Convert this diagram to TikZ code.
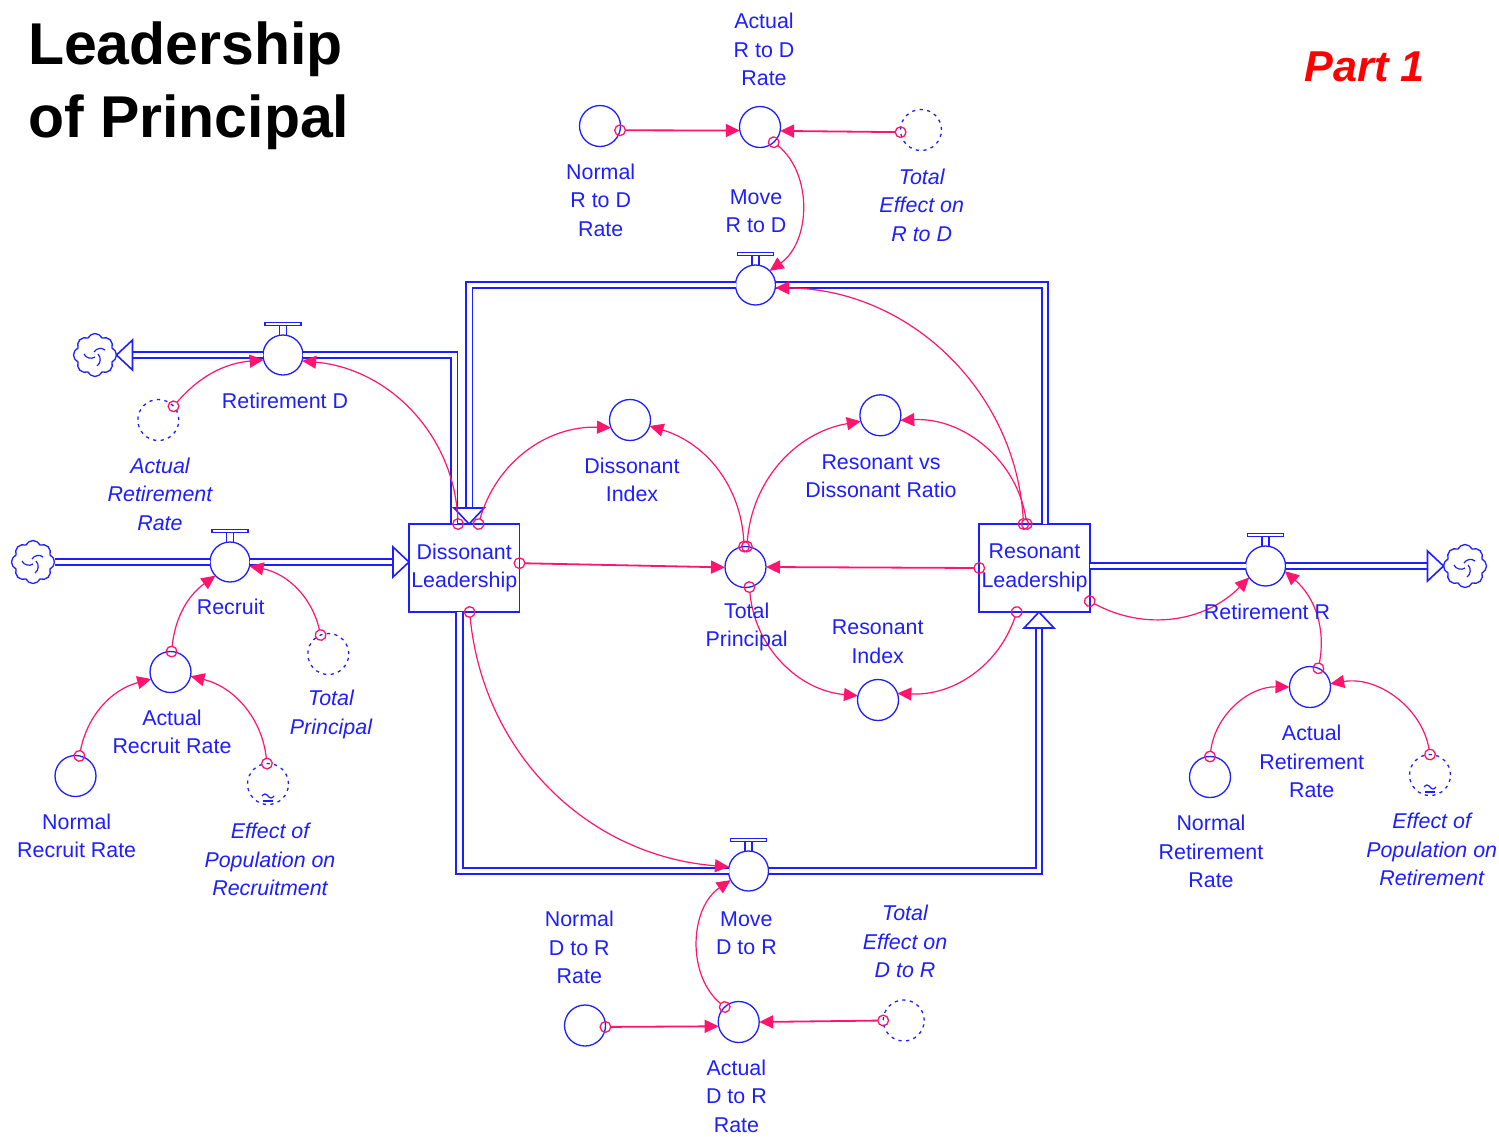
\documentclass[tikz,border=0pt]{standalone}
\usepackage{fontspec}
\setmainfont{Liberation Sans}
\usetikzlibrary{arrows.meta,shapes.symbols}
\definecolor{vblue}{RGB}{30,30,255}
\definecolor{cpink}{RGB}{255,20,110}
\newcommand\labfont{\fontsize{10.7}{14.25}\selectfont}

\begin{document}
\begin{tikzpicture}[x=0.5pt,y=0.5pt,
  every node/.style={inner sep=0pt, outer sep=0pt},
  lab/.style={text=vblue, font=\labfont, align=center},
  glab/.style={text=vblue, font=\labfont\itshape, align=center},
  aux/.style={circle, draw=vblue, line width=0.65pt, minimum size=20.5pt},
  ghost/.style={aux, dash pattern=on 1.6pt off 2.2pt},
  valve/.style={aux, fill=white, minimum size=20pt},
  stockbox/.style={draw=vblue, line width=0.8pt, minimum width=55.25pt, minimum height=44pt,
                   text=vblue, font=\labfont, align=center},
  cloudsh/.style={cloud, cloud puffs=8, cloud puff arc=130, aspect=1, draw=vblue,
                  line width=0.65pt, minimum width=21.5pt, minimum height=21.5pt},
  pipe/.style={draw=vblue, line width=0.85pt, double=white, double distance=2.45pt},
  ptipstyle/.style={draw=vblue, line width=0.8pt, line join=miter},
  vline/.style={draw=vblue, line width=0.6pt},
  conn/.style={draw=cpink, line width=0.6pt,
               {Circle[open,length=6pt,width=6pt,line width=0.65pt]}-{Triangle[length=7pt,width=6.5pt]},
               shorten <=-3pt},
  sconn/.style={conn, line width=0.9pt},
  ptip/.pic={\path[ptipstyle] (0,0) -- (-16,15) -- (-16,-15) -- cycle;},
  swirl/.pic={\draw[vline] (-11,1) to[bend right=50] (0,-2);
              \draw[vline] (2,-11) to[bend right=50] (3,1);
              \draw[vline] (10,5) to[bend right=50] (-1,3);}
]
\useasboundingbox (0,0) rectangle (1499,-1136);

% ---------- title ----------
\node[anchor=west, align=left, font=\fontsize{29.5}{36.6}\selectfont\bfseries] (title)
  at (28,-86) {Leadership\\of Principal};
\node[text=red, font=\fontsize{21.6}{26}\selectfont\bfseries\itshape] (part)
  at (1364.5,-67.2) {Part 1};

% ---------- stocks ----------
\node[stockbox] (dl) at (464.25,-568) {Dissonant\\Leadership};
\node[stockbox] (rl) at (1034.5,-568) {Resonant\\Leadership};

% ---------- clouds ----------
\node[cloudsh] (cRD) at (95,-355) {};
\node[cloudsh] (cRec) at (33,-562) {};
\node[cloudsh] (cRR) at (1465,-566) {};
\foreach \c in {cRD,cRec,cRR} \pic at (\c.center) {swirl};

% ---------- valves ----------
\node[valve] (rd) at (283,-355) {};
\node[valve] (rec) at (230,-562) {};
\node[valve] (mrd) at (755.5,-285) {};
\node[valve] (mdr) at (748.5,-871) {};
\node[valve] (rr) at (1265.5,-566) {};

% ---------- pipes ----------
\draw[pipe] ([xshift=-5pt]dl.north) |- (rd.east);
\draw[pipe] (rd.west) -- ([xshift=8pt]cRD.east);
\pic[rotate=180] at (cRD.east) {ptip};

\coordinate (dlIn) at (dl.west |- rec.center);
\draw[pipe] (cRec.east) -- (rec.west);
\draw[pipe] (rec.east) -- ([xshift=-8pt]dlIn);
\pic at (dlIn) {ptip};

\draw[pipe] ([xshift=5.25pt]rl.north) |- (mrd.east);
\draw[pipe] (mrd.west) -| ([shift={(2.4pt,7.5pt)}]dl.north);
\pic[rotate=-90] at ([xshift=2.4pt]dl.north) {ptip};

\draw[pipe] ([xshift=-2.4pt]dl.south) |- (mdr.west);
\draw[pipe] (mdr.east) -| ([shift={(2.25pt,-7.5pt)}]rl.south);
\pic[rotate=90] at ([xshift=2.25pt]rl.south) {ptip};

\coordinate (rlOut) at (rl.east |- rr.center);
\draw[pipe] (rlOut) -- (rr.west);
\draw[pipe] (rr.east) -- ([xshift=-8pt]cRR.west);
\pic at (cRR.west) {ptip};

% valve handles
\foreach \v in {rd,rec,mrd,mdr,rr}{
  \draw[vline] ([shift={(-18,29.5)}]\v.center) rectangle ([shift={(18,32.5)}]\v.center);
  \draw[vline] ([shift={(-3.5,20.5)}]\v.center) -- ([shift={(-3.5,29.5)}]\v.center);
  \draw[vline] ([shift={(3.5,20.5)}]\v.center) -- ([shift={(3.5,29.5)}]\v.center);
}

% ---------- auxiliaries ----------
\node[aux] (nrd) at (600,-126) {};
\node[aux] (ard) at (760,-127) {};
\node[ghost] (terd) at (921,-130) {};
\node[ghost] (arrL) at (158.3,-420) {};
\node[aux] (di) at (630,-420) {};
\node[aux] (rdr) at (880.4,-415.3) {};
\node[aux] (tp) at (745.5,-567) {};
\node[aux] (ri) at (878,-700) {};
\node[aux] (arr) at (170.5,-672) {};
\node[aux] (nrr) at (75.5,-776) {};
\node[ghost] (tpg) at (328.3,-654) {};
\node[ghost] (epr) at (268,-784) {};
\node[aux] (arrR) at (1310,-687) {};
\node[aux] (nretr) at (1210,-777) {};
\node[ghost] (epret) at (1430,-775) {};
\node[aux] (adr) at (738.7,-1022) {};
\node[aux] (ndr) at (585,-1025.5) {};
\node[ghost] (tedr) at (903.7,-1020.5) {};

% graph marks on lookup auxiliaries
\foreach \g in {epr,epret}{
  \draw[vline] ([shift={(-6,-12)}]\g.center) sin ([shift={(-3,-10)}]\g.center)
     cos ([shift={(0,-12)}]\g.center) sin ([shift={(3,-14)}]\g.center) cos ([shift={(6,-12)}]\g.center);
  \draw[vline] ([shift={(-5,-17)}]\g.center) -- ([shift={(5,-17)}]\g.center);
}

% ---------- connectors ----------
\draw[sconn] (nrd.-12) -- (ard.190);
\draw[sconn] (terd.186) -- (ard.-11);
\draw[conn] (ard.-48) to[bend left=53] (mrd.45);
\draw[conn] (rl.104) to[bend right=43] (mrd.-8);
\draw[conn] (rl.100) to[bend right=42] (rdr.-14);
\draw[conn] (tp.86) to[bend left=38] (rdr.197);
\draw[conn] (tp.94) to[bend right=35] (di.-17);
\draw[conn] (dl.72) to[bend left=38] (di.202);
\draw[conn] (dl.98) to[bend right=41] (rd.-17);
\draw[conn] (arrL.42) to[bend left=22] (rd.194);
\draw[sconn] (dl.5) -- (tp.181);
\draw[sconn] (rl.180) -- (tp.0);
\draw[conn] (tp.-79) to[bend right=40] (ri.168);
\draw[conn] (rl.-112) to[bend left=37] (ri.19);
\draw[conn] (dl.-83) to[bend right=40] (mdr.168);
\draw[conn] (adr.133) to[bend left=53] (mdr.207);
\draw[sconn] (ndr.-4) -- (adr.192);
\draw[sconn] (tedr.180) -- (adr.0);
\draw[conn] (rl.-31) to[bend right=37] (rr.215);
\draw[conn] (arrR.66) to[bend right=30] (rr.-15);
\draw[conn] (nretr.90) to[bend left=42] (arrR.180);
\draw[conn] (epret.90) to[bend right=45] (arrR.9);
\draw[conn] (arr.87) to[bend left=24] (rec.223);
\draw[conn] (tpg.112) to[bend right=33] (rec.-12);
\draw[conn] (nrr.79) to[bend left=32] (arr.200);
\draw[conn] (epr.93) to[bend right=35] (arr.-12);

% ---------- labels ----------
\node[lab] (l-ard) at (764,-49.5) {Actual\\R to D\\Rate};
\node[lab] (l-nrd) at (600.7,-200) {Normal\\R to D\\Rate};
\node[lab] (l-mrd) at (756,-211) {Move\\R to D};
\node[glab] (l-terd) at (921.7,-205.2) {Total\\Effect on\\R to D};
\node[lab] (l-rd) at (285,-400.7) {Retirement D};
\node[glab] (l-arrL) at (160,-494.2) {Actual\\Retirement\\Rate};
\node[lab] (l-di) at (632,-480) {Dissonant\\Index};
\node[lab] (l-rdr) at (881,-476) {Resonant vs\\Dissonant Ratio};
\node[lab] (l-rec) at (230.7,-606.7) {Recruit};
\node[lab] (l-tp) at (746.7,-627) {Total\\Principal};
\node[lab] (l-ri) at (877.7,-641.5) {Resonant\\Index};
\node[lab] (l-rr) at (1267,-611.7) {Retirement R};
\node[glab] (l-tpg) at (331,-714.5) {Total\\Principal};
\node[lab] (l-arr) at (172,-732) {Actual\\Recruit Rate};
\node[lab] (l-nrr) at (76.7,-836) {Normal\\Recruit Rate};
\node[glab] (l-epr) at (270,-859.5) {Effect of\\Population on\\Recruitment};
\node[lab] (l-arrR) at (1311.7,-761.7) {Actual\\Retirement\\Rate};
\node[lab] (l-nretr) at (1211,-851.5) {Normal\\Retirement\\Rate};
\node[glab] (l-epret) at (1431.7,-849.5) {Effect of\\Population on\\Retirement};
\node[lab] (l-ndr) at (579.3,-947.5) {Normal\\D to R\\Rate};
\node[lab] (l-mdr) at (746.4,-933.3) {Move\\D to R};
\node[glab] (l-tedr) at (905,-941.7) {Total\\Effect on\\D to R};
\node[lab] (l-adr) at (736.4,-1096) {Actual\\D to R\\Rate};
\end{tikzpicture}
\end{document}
